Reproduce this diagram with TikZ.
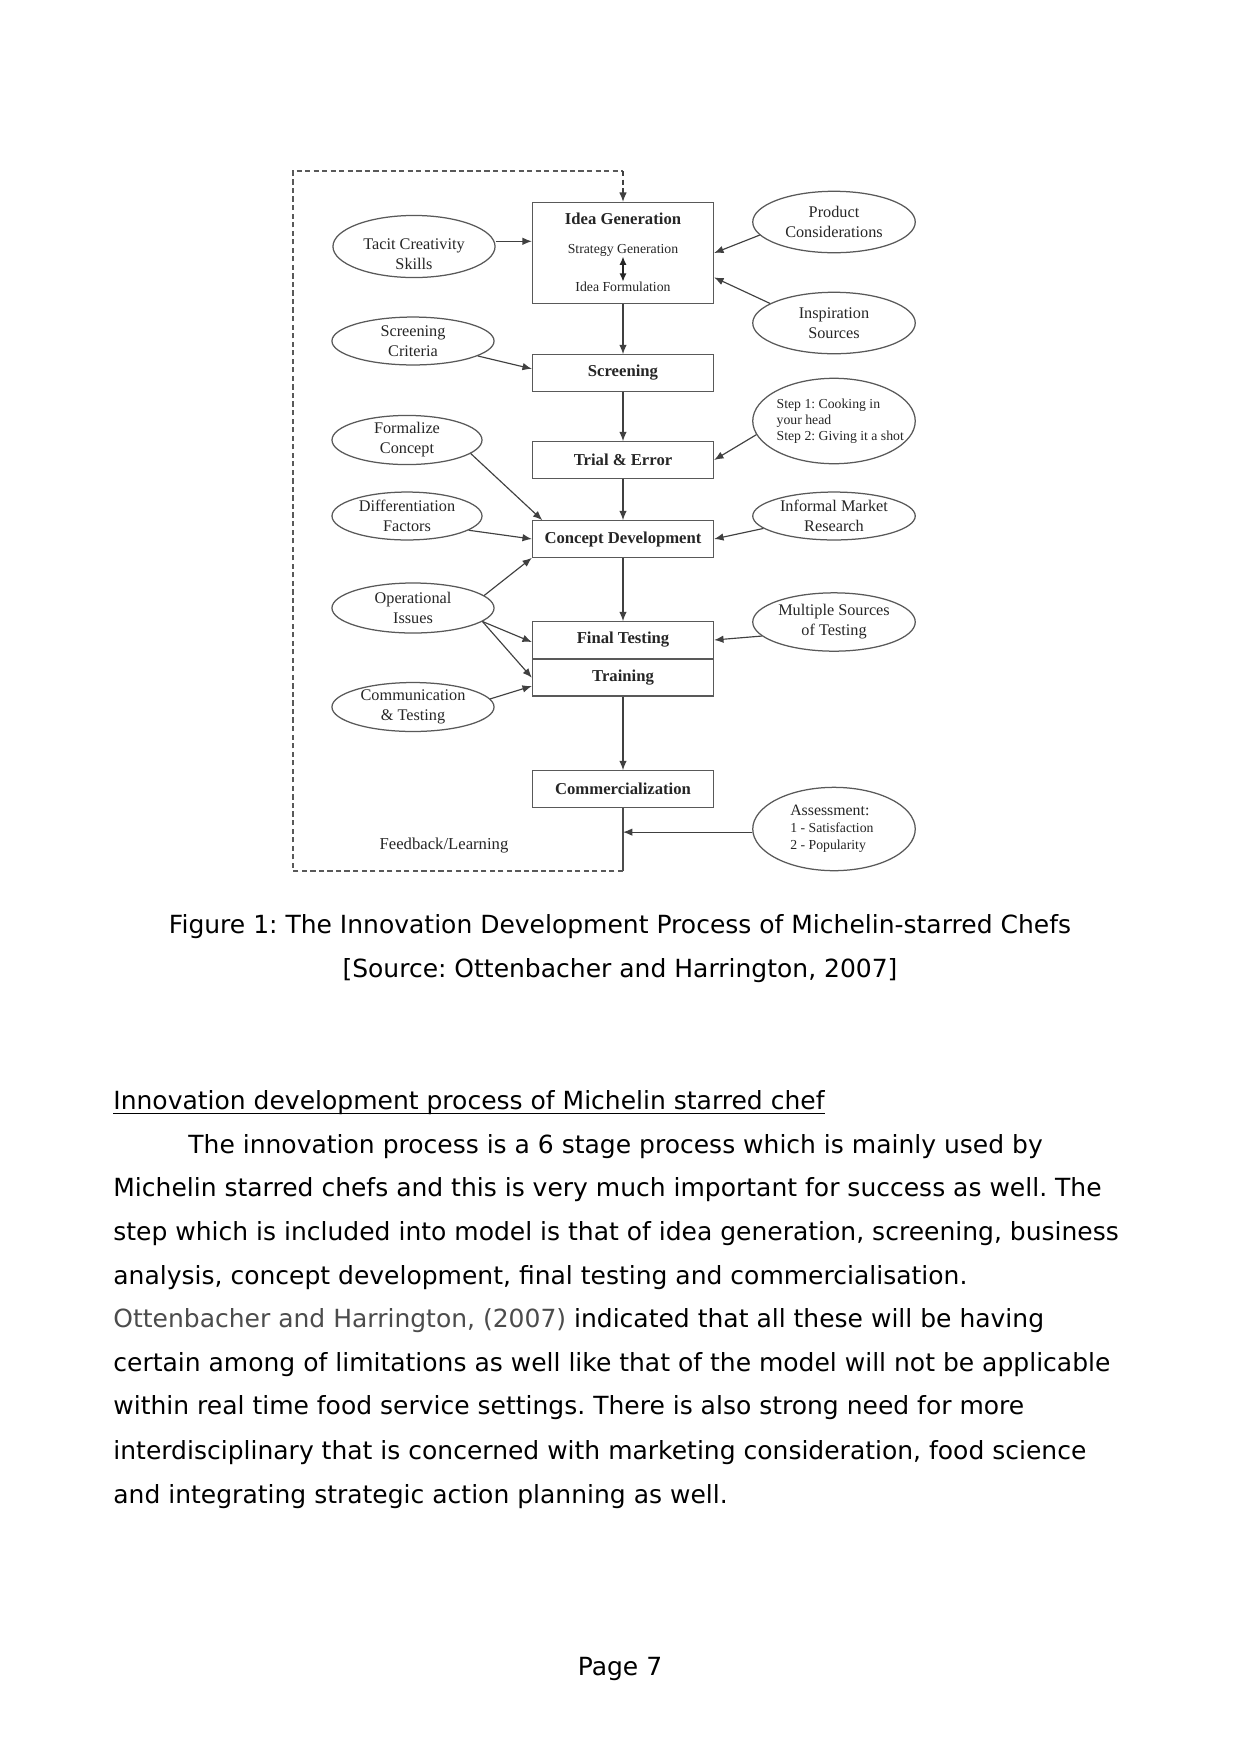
\documentclass[tikz,border=0pt]{standalone}
\usepackage{fontspec}
\setmainfont{DejaVu Sans}
\newfontfamily\chartfont{Liberation Serif}
\usetikzlibrary{shapes,arrows.meta,positioning,calc}
\frenchspacing

\begin{document}
\begin{tikzpicture}[
    x=0.48pt, y=-0.48pt,
    stage/.style={rectangle, draw=black!65, line width=0.6pt, text=black!85, minimum width=86.9pt, minimum height=17.5pt, inner sep=0pt, font=\chartfont\fontsize{8}{9.6}\selectfont\bfseries},
    factor/.style={ellipse, draw=black!65, line width=0.6pt, text=black!85, minimum width=77.8pt, minimum height=23pt, inner sep=0pt, align=center, font=\chartfont\fontsize{7.8}{9.6}\selectfont},
    smalltext/.style={inner sep=0pt, text=black!85, font=\chartfont\fontsize{6.6}{7.7}\selectfont},
    arrow/.style={-{Latex[length=4.5pt,width=3.6pt]}, draw=black!75, line width=0.55pt},
    feedback/.style={draw=black!65, dash pattern=on 2.5pt off 1.6pt, line width=0.6pt},
    bodytext/.style={anchor=base west, inner sep=0pt, font=\fontsize{12}{14}\selectfont},
    captiontext/.style={anchor=base, inner sep=0pt, font=\fontsize{12}{14}\selectfont}
]
    \fill[white] (0,0) rectangle (1241,1754);

    % Main stages
    \node[stage, minimum height=48.5pt] (idea) at (623,253) {};
    \node[stage, draw=none] (ideatitle) at (623,219) {Idea Generation};
    \node[smalltext] (strategy) at (623,250) {Strategy Generation};
    \node[smalltext] (formulation) at (623,287) {Idea Formulation};
    \node[stage] (screen) at (623,373) {Screening};
    \node[stage] (trial) at (623,460) {Trial \& Error};
    \node[stage] (concept) at (623,539) {Concept Development};
    \node[stage] (final) at (623,640) {Final Testing};
    \node[stage, below=0pt of final] (training) {Training};
    \node[stage] (commercial) at (623,789) {Commercialization};

    % Left inputs
    \node[factor, minimum height=29.8pt, label={[yshift=-3.8pt, align=center, text=black!85, font=\chartfont\fontsize{7.8}{9.6}\selectfont]center:Tacit Creativity\\Skills}] (tacit) at (414,246.5) {};
    \node[factor] (criteria) at (413,341) {Screening\\Criteria};
    \node[factor, minimum width=72pt] (formalize) at (407,440) {Formalize\\Concept};
    \node[factor, minimum width=72pt] (differ) at (407,516) {Differentiation\\Factors};
    \node[factor, minimum height=24pt] (operational) at (413,608) {Operational\\Issues};
    \node[factor, minimum height=23.5pt] (communication) at (413,707) {Communication\\\& Testing};

    % Right inputs
    \node[factor, minimum width=78pt, minimum height=29.5pt] (product) at (834,222) {Product\\Considerations};
    \node[factor, minimum width=78pt, minimum height=29.5pt] (inspiration) at (834,323) {Inspiration\\Sources};
    \node[factor, minimum width=78pt, minimum height=41pt, label={[xshift=3pt, align=left, text=black!85, font=\chartfont\fontsize{6.6}{7.7}\selectfont]center:Step 1: Cooking in\\your head\\Step 2: Giving it a shot}] (steps) at (834,421) {};
    \node[factor, minimum width=78pt] (informal) at (834,516) {Informal Market\\Research};
    \node[factor, minimum width=78pt, minimum height=28pt] (multiple) at (834,622) {Multiple Sources\\of Testing};
    \node[factor, minimum width=78pt, minimum height=40pt, label={[xshift=-1pt, align=left, text=black!85, font=\chartfont\fontsize{6.6}{8.2}\selectfont]center:{\fontsize{7.6}{8.2}\selectfont Assessment:}\\1 - Satisfaction\\2 - Popularity}] (assess) at (834,829) {};

    \node[inner sep=0pt, text=black!85, font=\chartfont\fontsize{8}{9.6}\selectfont] (fbtext) at (444,846) {Feedback/Learning};

    % Feedback loop
    \coordinate (loopbr) at (623,871);
    \coordinate (loopbl) at (293,871);
    \coordinate (looptl) at (293,171);
    \coordinate (looptr) at (idea.north |- looptl);

    % Connections
    \draw[{Latex[length=4pt,width=3.4pt]}-{Latex[length=4pt,width=3.4pt]}, draw=black!85, line width=0.9pt] (strategy) -- (formulation);
    \draw[arrow] ([yshift=2.5pt]tacit.east) -- ([yshift=2.5pt]tacit.east -| idea.west);
    \draw[arrow] (product.190) -- (idea.east);
    \draw[arrow] (inspiration.163) -- (idea.-15);
    \draw[arrow] (idea) -- (screen);
    \draw[arrow] (criteria.-13) -- ([yshift=2pt]screen.west);
    \draw[arrow] (screen) -- (trial);
    \draw[arrow] (steps.190) -- (trial.east);
    \draw[arrow] (trial) -- (concept);
    \draw[arrow] (formalize.-12) -- ([xshift=5pt]concept.north west);
    \draw[arrow] (differ.-13) -- (concept.west);
    \draw[arrow] (informal.190) -- (concept.east);
    \draw[arrow] (operational.10) -- (concept.south west);
    \draw[arrow] (operational.-11) -- ([yshift=-1pt]final.west);
    \draw[arrow] (operational.-11) -- (training.west);
    \draw[arrow] (communication.6) -- ([yshift=-4pt]training.west);
    \draw[arrow] (multiple.191) -- (final.east);
    \draw[arrow] (concept) -- (final);
    \draw[arrow] (training) -- (commercial);
    \draw[draw=black!70, line width=0.6pt] (commercial) -- (loopbr);
    \draw[arrow] ([yshift=-1.5pt]assess.west) -- ([yshift=-1.5pt]assess.west -| commercial);
    \draw[feedback] (loopbr) -- (loopbl) -- (looptl) -- (looptr);
    \draw[feedback, arrow, dash pattern=on 2.5pt off 1.6pt] (looptr) -- (idea);

    % Caption
    \node[captiontext] (caption1) at (620,933) {Figure 1: The Innovation Development Process of Michelin-starred Chefs};
    \node[captiontext] (caption2) at (620,977) {[Source: Ottenbacher and Harrington, 2007]};

    % Body text
    \node[bodytext] (heading) at (113,1109) {Innovation development process of Michelin starred chef};
    \draw[line width=0.6pt] ([yshift=-2.2pt]heading.base west) -- ([yshift=-2.2pt]heading.base east);
    \node[bodytext] (line1) at (188,1153) {The innovation process is a 6 stage process which is mainly used by};
    \node[bodytext] (line2) at (113,1196) {Michelin starred chefs and this is very much important for success as well. The};
    \node[bodytext] (line3) at (113,1240) {step which is included into model is that of idea generation, screening, business};
    \node[bodytext] (line4) at (113,1284) {analysis, concept development, final testing and commercialisation.};
    \node[bodytext] (line5) at (113,1327) {{\color{black!70}Ottenbacher and Harrington, (2007)} indicated that all these will be having};
    \node[bodytext] (line6) at (113,1371) {certain among of limitations as well like that of the model will not be applicable};
    \node[bodytext] (line7) at (113,1414) {within real time food service settings. There is also strong need for more};
    \node[bodytext] (line8) at (113,1459) {interdisciplinary that is concerned with marketing consideration, food science};
    \node[bodytext] (line9) at (113,1503) {and integrating strategic action planning as well.};

    \node[captiontext] (pagenum) at (620,1675) {Page 7};
\end{tikzpicture}
\end{document}
